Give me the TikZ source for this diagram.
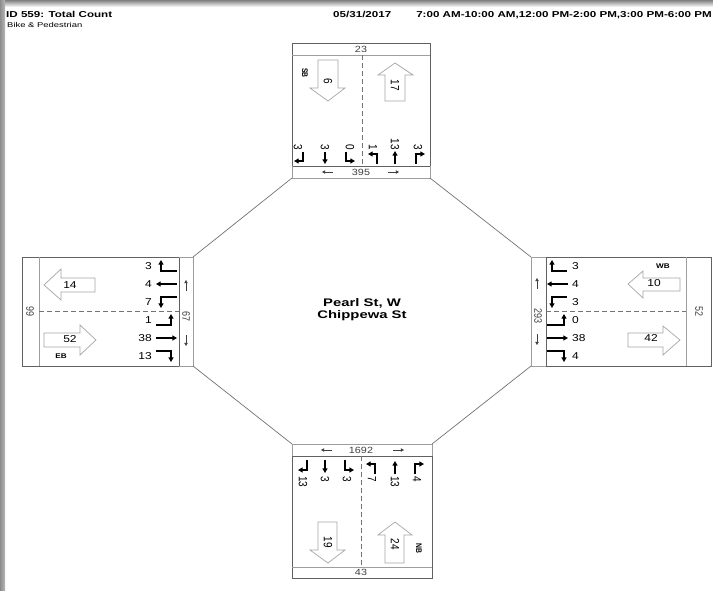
\documentclass[tikz,border=0pt]{standalone}
\usepackage{fontspec}
\setmainfont{Liberation Sans}
\usepackage{graphicx}
\usetikzlibrary{arrows.meta}
\newcommand{\hs}[1]{\scalebox{1.35}[1]{#1}}
\newcommand{\hn}[1]{\scalebox{1.2}[1]{#1}}
\newcommand{\vn}[1]{\scalebox{1}[1.2]{#1}}
\begin{document}
\begin{tikzpicture}[x=1pt,y=-1pt,
  box/.style={draw=black!62, line width=0.8pt},
  lite/.style={draw=black!38, line width=0.7pt},
  dsh/.style={draw=black!55, line width=0.8pt, dash pattern=on 5pt off 3pt},
  num/.style={font=\fontsize{10}{10}\selectfont, inner sep=0pt},
  lab/.style={font=\fontsize{9}{9}\selectfont, text=black!75, inner sep=0pt},
  dirl/.style={font=\bfseries\fontsize{6.8}{6.8}\selectfont, inner sep=0pt},
  hdr/.style={font=\bfseries\fontsize{8.6}{8.6}\selectfont, inner sep=0pt},
  mv/.style={line width=1.2pt, -{Triangle[length=4.6pt,width=5pt]}},
  sm/.style={line width=0.6pt, draw=black!75, -{Triangle[length=3.2pt,width=3.4pt]}},
  hol/.style={draw=black!35, fill=white, line width=0.7pt}]
\useasboundingbox (0,0) rectangle (713,590);
\fill[white] (0,0) rectangle (713,590);
% grey page edges
\shade[top color=black!50, bottom color=white] (0,0) rectangle (713,7);
\shade[left color=black!45, right color=black!28] (0,0) rectangle (5,590);

% header
\node[hdr, anchor=base west] (title) at (6,17) {\hs{ID 559: Total Count}};
\node[font=\fontsize{7}{7}\selectfont, inner sep=0pt, anchor=base west] (sub) at (7,27) {\hs{Bike \& Pedestrian}};
\node[hdr, anchor=base west] (date) at (333,17) {\hs{05/31/2017}};
\node[hdr, anchor=base east] (time) at (712,17) {\hs{7:00 AM-10:00 AM,12:00 PM-2:00 PM,3:00 PM-6:00 PM}};

% ---------- boxes ----------
% north
\draw[box] (292,166) -- (292,43) -- (430,43) -- (430,166) -- cycle;
\draw[lite] (292,55) -- (430,55);
\draw[lite] (292,166) -- (292,178) -- (430,178) -- (430,166);
\draw[dsh] (362,55) -- (362,166);
% south
\draw[box] (292,456) -- (292,578) -- (432,578) -- (432,456) -- cycle;
\draw[lite] (292,567) -- (432,567);
\draw[lite] (292,456) -- (292,444) -- (432,444) -- (432,456);
\draw[dsh] (361,456) -- (361,567);
% west
\draw[box] (179,257) -- (22,257) -- (22,366) -- (179,366) -- cycle;
\draw[lite] (39,257) -- (39,366);
\draw[lite] (179,257) -- (193,257) -- (193,366) -- (179,366);
\draw[dsh] (39,311) -- (179,311);
% east
\draw[box] (546,257) -- (711,257) -- (711,366) -- (546,366) -- cycle;
\draw[lite] (686,257) -- (686,366);
\draw[lite] (546,257) -- (531,257) -- (531,366) -- (546,366);
\draw[dsh] (546,311) -- (686,311);

% octagon diagonals
\coordinate (nwA) at (292,178); \coordinate (nwB) at (193,257);
\coordinate (neA) at (430,178); \coordinate (neB) at (531,257);
\coordinate (swA) at (193,366); \coordinate (swB) at (292,444);
\coordinate (seA) at (531,366); \coordinate (seB) at (432,444);
\draw[draw=black!55, line width=0.7pt] (nwA) -- (nwB);
\draw[draw=black!55, line width=0.7pt] (neA) -- (neB);
\draw[draw=black!55, line width=0.7pt] (swA) -- (swB);
\draw[draw=black!55, line width=0.7pt] (seA) -- (seB);

% centre
\node[font=\bfseries\fontsize{11}{11}\selectfont, inner sep=0pt] (c1) at (362,303) {\hs{Pearl St, W}};
\node[font=\bfseries\fontsize{11}{11}\selectfont, inner sep=0pt] (c2) at (362,316) {\hs{Chippewa St}};

% ---------- north contents ----------
\node[lab] (n23) at (361,49) {\hn{23}};
\node[lab] (n395) at (361,172) {\hn{395}};
\draw[sm] (333,172) -- (322,172);
\draw[sm] (388,172) -- (399,172);
\node[dirl, rotate=-90] (nSB) at (305,73) {\vn{SB}};
\draw[hol] (318,60) -- (338,60) -- (338,88) -- (345,88) -- (328,101) -- (310,88) -- (318,88) -- cycle;
\node[num, rotate=-90] (n6) at (328,81) {\vn{6}};
\draw[hol] (385,101) -- (385,75) -- (378,75) -- (395,63) -- (413,75) -- (405,75) -- (405,101) -- cycle;
\node[num, rotate=-90] (n17) at (395,85) {\vn{17}};
\node[num, rotate=-90, anchor=east] (nn1) at (298,150) {\vn{3}};
\node[num, rotate=-90, anchor=east] (nn2) at (325,150) {\vn{3}};
\node[num, rotate=-90, anchor=east] (nn3) at (350,150) {\vn{0}};
\node[num, rotate=-90, anchor=east] (nn4) at (373,150) {\vn{1}};
\node[num, rotate=-90, anchor=east] (nn5) at (395,150) {\vn{13}};
\node[num, rotate=-90, anchor=east] (nn6) at (418,150) {\vn{3}};
\draw[mv] (303,152) -- (303,161) -- (294,161);
\draw[mv] (325,152) -- (325,164);
\draw[mv] (346,152) -- (346,161) -- (355,161);
\draw[mv] (377,164) -- (377,154) -- (368,154);
\draw[mv] (395,164) -- (395,151);
\draw[mv] (416,164) -- (416,154) -- (425,154);

% ---------- south contents ----------
\node[lab] (s1692) at (361,450) {\hn{1692}};
\draw[sm] (332,450) -- (321,450);
\draw[sm] (393,450) -- (404,450);
\node[lab] (s43) at (361,572) {\hn{43}};
\draw[mv] (307,460) -- (307,470) -- (298,470);
\draw[mv] (325,460) -- (325,473);
\draw[mv] (345,460) -- (345,470) -- (354,470);
\draw[mv] (375,474) -- (375,464) -- (366,464);
\draw[mv] (395,474) -- (395,461);
\draw[mv] (415,474) -- (415,464) -- (424,464);
\node[num, rotate=-90, anchor=west] (sn1) at (303,476) {\vn{13}};
\node[num, rotate=-90, anchor=west] (sn2) at (325,476) {\vn{3}};
\node[num, rotate=-90, anchor=west] (sn3) at (347,476) {\vn{3}};
\node[num, rotate=-90, anchor=west] (sn4) at (372,476) {\vn{7}};
\node[num, rotate=-90, anchor=west] (sn5) at (395,476) {\vn{13}};
\node[num, rotate=-90, anchor=west] (sn6) at (417,476) {\vn{4}};
\draw[hol] (318,522) -- (337,522) -- (337,550) -- (345,550) -- (328,563) -- (310,550) -- (318,550) -- cycle;
\node[num, rotate=-90] (s19) at (328,542) {\vn{19}};
\draw[hol] (385,563) -- (385,535) -- (378,535) -- (395,522) -- (412,535) -- (404,535) -- (404,563) -- cycle;
\node[num, rotate=-90] (s24) at (395,544) {\vn{24}};
\node[dirl, rotate=-90] (sNB) at (419,548) {\vn{NB}};

% ---------- west contents ----------
\node[lab, rotate=-90] (w99) at (30,311) {\vn{99}};
\node[lab, rotate=-90] (w67) at (186,316) {\vn{67}};
\draw[sm] (186,291) -- (186,280);
\draw[sm] (186,335) -- (186,346);
\draw[hol] (44,285) -- (61,269) -- (61,278) -- (95,278) -- (95,292) -- (61,292) -- (61,300) -- cycle;
\node[num] (w14) at (70,285) {\hn{14}};
\draw[hol] (96,340) -- (80,325) -- (80,333) -- (44,333) -- (44,347) -- (80,347) -- (80,355) -- cycle;
\node[num] (w52) at (70,339) {\hn{52}};
\node[dirl] (wEB) at (61,356) {\hn{EB}};
\node[num, anchor=east] (wn1) at (152,266) {\hn{3}};
\node[num, anchor=east] (wn2) at (152,284) {\hn{4}};
\node[num, anchor=east] (wn3) at (152,302) {\hn{7}};
\node[num, anchor=east] (wn4) at (152,320) {\hn{1}};
\node[num, anchor=east] (wn5) at (152,338) {\hn{38}};
\node[num, anchor=east] (wn6) at (152,356) {\hn{13}};
\draw[mv] (177,271) -- (161,271) -- (161,260);
\draw[mv] (177,284) -- (156,284);
\draw[mv] (177,297) -- (161,297) -- (161,308);
\draw[mv] (156,325) -- (171,325) -- (171,314);
\draw[mv] (156,338) -- (177,338);
\draw[mv] (156,351) -- (171,351) -- (171,362);

% ---------- east contents ----------
\node[lab, rotate=-90] (e293) at (538,316) {\vn{293}};
\node[lab, rotate=-90] (e52) at (699,311) {\vn{52}};
\draw[sm] (537,289) -- (537,278);
\draw[sm] (537,334) -- (537,345);
\draw[hol] (628,284) -- (643,271) -- (643,278) -- (680,278) -- (680,291) -- (643,291) -- (643,298) -- cycle;
\node[num] (e10) at (654,283) {\hn{10}};
\draw[hol] (680,340) -- (663,326) -- (663,333) -- (628,333) -- (628,347) -- (663,347) -- (663,355) -- cycle;
\node[num] (e42) at (651,338) {\hn{42}};
\node[dirl] (eWB) at (663,266) {\hn{WB}};
\node[num, anchor=west] (en1) at (572,266) {\hn{3}};
\node[num, anchor=west] (en2) at (572,284) {\hn{4}};
\node[num, anchor=west] (en3) at (572,302) {\hn{3}};
\node[num, anchor=west] (en4) at (572,320) {\hn{0}};
\node[num, anchor=west] (en5) at (572,338) {\hn{38}};
\node[num, anchor=west] (en6) at (572,356) {\hn{4}};
\draw[mv] (567,271) -- (552,271) -- (552,260);
\draw[mv] (568,284) -- (547,284);
\draw[mv] (567,297) -- (552,297) -- (552,308);
\draw[mv] (547,325) -- (564,325) -- (564,314);
\draw[mv] (547,338) -- (568,338);
\draw[mv] (547,351) -- (564,351) -- (564,362);
\end{tikzpicture}
\end{document}
